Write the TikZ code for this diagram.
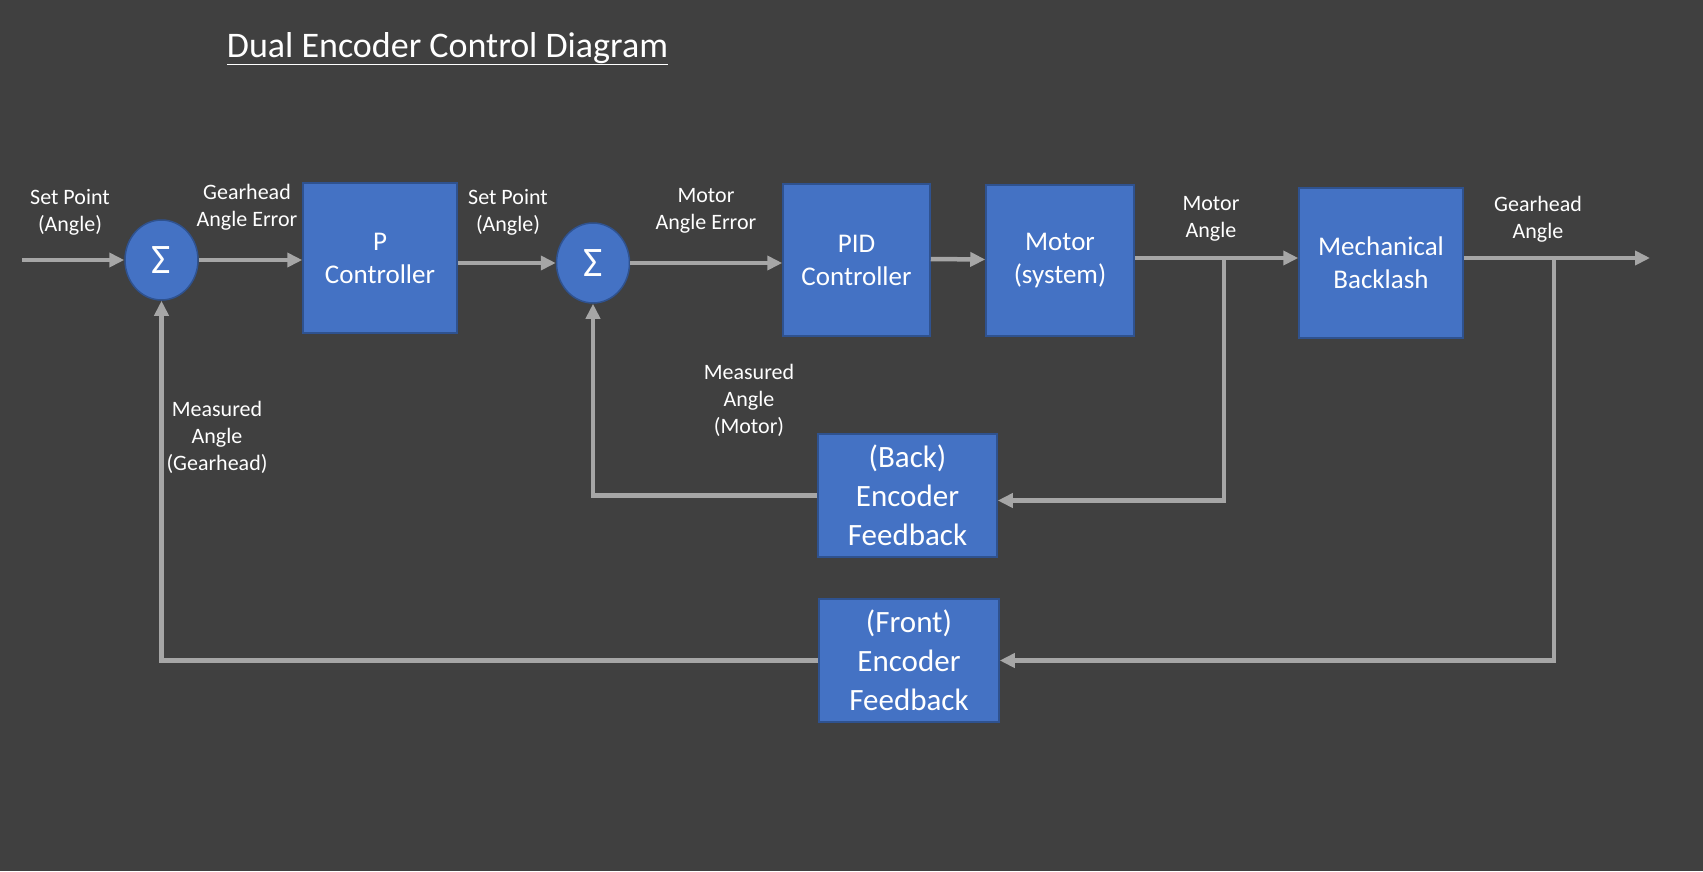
\documentclass[tikz,border=0pt]{standalone}
\usepackage{fontspec}
\setmainfont{Carlito}
\usetikzlibrary{arrows.meta,shapes.geometric}
\definecolor{bg}{HTML}{404040}
\definecolor{boxblue}{HTML}{4472C4}
\definecolor{boxedge}{HTML}{2F528F}
\definecolor{wire}{HTML}{A6A6A6}
\tikzset{
  blk/.style={draw=boxedge, line width=1.5pt, fill=boxblue, text=white, align=center, inner sep=0pt,
    font=\fontsize{27}{33}\selectfont},
  encblk/.style={blk, font=\fontsize{31}{39}\selectfont},
  sumnode/.style={ellipse, draw=boxedge, line width=1.5pt, fill=boxblue, text=white, inner sep=0pt,
    minimum width=73pt, minimum height=80pt, font=\fontsize{42}{42}\selectfont},
  lbl/.style={text=white, align=center, font=\fontsize{22}{27}\selectfont},
  wireline/.style={draw=wire, line width=4.5pt},
  arr/.style={wireline, -{Triangle[length=15pt,width=14pt]}}
}
\begin{document}
\begin{tikzpicture}[x=1pt,y=-1pt]
\path[fill=bg] (0,0) rectangle (1703,871);
% title
\node[text=white, anchor=base, font=\fontsize{36}{42}\selectfont] (title) at (447.5,57) {\underline{Dual Encoder Control Diagram}};
% blocks
\node[sumnode] (sum1) at (161.5,260) {Σ};
\node[sumnode] (sum2) at (593,263) {Σ};
\node[blk, minimum width=154pt, minimum height=150pt] (pc) at (380,258) {P\\Controller};
\node[blk, minimum width=147pt, minimum height=152pt] (pid) at (856.5,260) {PID\\Controller};
\node[blk, minimum width=148pt, minimum height=151pt] (motor) at (1060,260.5) {Motor\\(system)};
\node[blk, minimum width=164pt, minimum height=150pt] (mb) at (1381,263) {Mechanical\\Backlash};
\node[encblk, minimum width=179pt, minimum height=123pt] (back) at (907.5,495.5) {(Back)\\Encoder\\Feedback};
\node[encblk, minimum width=180pt, minimum height=123pt] (front) at (909,660.5) {(Front)\\Encoder\\Feedback};
% labels
\node[lbl] (l1) at (70,212) {Set Point\\(Angle)};
\node[lbl] (l2) at (247,207) {Gearhead\\Angle Error};
\node[lbl] (l3) at (508,212) {Set Point\\(Angle)};
\node[lbl] (l4) at (706,210.5) {Motor\\Angle Error};
\node[lbl] (l5) at (1211,219) {Motor\\Angle};
\node[lbl] (l6) at (1538,219) {Gearhead\\Angle};
\node[lbl] (l7) at (749,400) {Measured\\Angle\\(Motor)};
\node[lbl] (l8) at (217,437) {Measured\\Angle\\(Gearhead)};
% coordinates
\coordinate (in) at (22,260);
\coordinate (out) at (1650,258);
\coordinate (br1) at (1224,258);
\coordinate (br2) at (1554,258);
% forward path
\draw[arr] (in) -- (sum1.west);
\draw[arr] (sum1.east) -- (pc.west |- sum1.east);
\draw[arr] (pc.east |- sum2.west) -- (sum2.west);
\draw[arr] (sum2.east) -- (pid.west |- sum2.east);
\draw[arr] ([yshift=1pt]pid.east) -- ([yshift=1pt]motor.west);
\draw[arr] (motor.east |- br1) -- (mb.west |- br1);
\draw[arr] (mb.east |- out) -- (out);
% feedback loops
\draw[arr] (br1) |- ([yshift=-5pt]back.east);
\draw[arr] (back.west) -| (sum2.south);
\draw[arr] (br2) |- (front.east);
\draw[arr] (front.west) -| (sum1.south);
\end{tikzpicture}
\end{document}
